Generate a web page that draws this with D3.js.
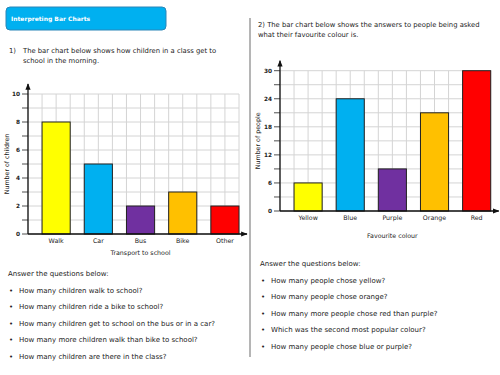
<!DOCTYPE html>
<html>
<head>
<meta charset="utf-8">
<script src="https://cdn.jsdelivr.net/npm/d3@7"></script>
<style>
  body { margin: 0; background: #fff; }
  text { font-family: "DejaVu Sans", sans-serif; fill: #222; }
</style>
</head>
<body>
<div id="sheet"></div>
<script>
// chart 1 data
var transportCats   = ["Walk", "Car", "Bus", "Bike", "Other"];
var transportCounts = [8, 5, 2, 3, 2];
var childTicks      = [0, 2, 4, 6, 8, 10];

// chart 2 data
var colourCats   = ["Yellow", "Blue", "Purple", "Orange", "Red"];
var colourCounts = [6, 24, 9, 21, 30];
var peopleTicks  = [0, 6, 12, 18, 24, 30];

var barFills = ["#ffff00", "#00b0f0", "#7030a0", "#ffc000", "#ff0000"];

var questions1 = [
  "How many children walk to school?",
  "How many children ride a bike to school?",
  "How many children get to school on the bus or in a car?",
  "How many more children walk than bike to school?",
  "How many children are there in the class?"
];
var questions2 = [
  "How many people chose yellow?",
  "How many people chose orange?",
  "How many more people chose red than purple?",
  "Which was the second most popular colour?",
  "How many people chose blue or purple?"
];

const W = 500, H = 375;

const svg = d3.select("#sheet")
              .append("svg")
              .attr("width", W)
              .attr("height", H);

svg.append("defs").append("marker")
   .attr("id", "arrow")
   .attr("viewBox", "0 0 10 10")
   .attr("refX", 9).attr("refY", 5)
   .attr("markerWidth", 5).attr("markerHeight", 5)
   .attr("orient", "auto")
   .append("path")
   .attr("d", "M0,1 L10,5 L0,9 Z")
   .attr("fill", "#111");

// header box
svg.append("rect")
   .attr("x", 6).attr("y", 7)
   .attr("width", 160).attr("height", 23)
   .attr("rx", 4)
   .attr("fill", "#00b0f0")
   .attr("stroke", "#2a86b8")
   .attr("stroke-width", 1);
svg.append("text")
   .attr("x", 11).attr("y", 21)
   .style("font-size", "6px")
   .style("font-weight", "bold")
   .style("fill", "#fff")
   .text("Interpreting Bar Charts");

// separator
svg.append("line")
   .attr("x1", 250).attr("x2", 250)
   .attr("y1", 18).attr("y2", 357)
   .attr("stroke", "#b5b5b5")
   .attr("stroke-width", 2);

// intro texts
function para(x, y, lines, step) {
  lines.forEach(function(l, i) {
    svg.append("text")
       .attr("x", x).attr("y", y + i * step)
       .style("font-size", "6.8px")
       .text(l);
  });
}
svg.append("text").attr("x", 9).attr("y", 53).style("font-size", "6.8px").text("1)");
para(23, 53, ["The bar chart below shows how children in a class get to",
              "school in the morning."], 9.5);
para(258, 27, ["2) The bar chart below shows the answers to people being asked",
               "what their favourite colour is."], 9.5);

function drawChart(o) {
  var g = svg.append("g");

  var x = d3.scaleBand()
            .domain(o.cats)
            .range([o.x0, o.x1])
            .paddingInner(1/3)
            .paddingOuter(1/6)
            .align(1);

  var y = d3.scaleLinear()
            .domain([0, o.max])
            .range([o.y0, o.y1]);

  // grid
  var cols = d3.range(16).map(function(i) { return o.x0 + i * (o.x1 - o.x0) / 15; });
  g.selectAll(".vg").data(cols).enter()
   .append("line")
   .attr("x1", function(d) { return d; }).attr("x2", function(d) { return d; })
   .attr("y1", o.y0).attr("y2", o.y1)
   .attr("stroke", "#d4d4d4").attr("stroke-width", 1);

  var rows = d3.range(0, o.max + 0.001, o.minor);
  g.selectAll(".hg").data(rows).enter()
   .append("line")
   .attr("x1", o.x0).attr("x2", o.x1)
   .attr("y1", function(d) { return y(d); }).attr("y2", function(d) { return y(d); })
   .attr("stroke", "#d4d4d4").attr("stroke-width", 1);

  // bars
  g.selectAll(".bar").data(o.values).enter()
   .append("rect")
   .attr("x", function(d, i) { return x(o.cats[i]); })
   .attr("y", function(d) { return y(d); })
   .attr("width", x.bandwidth())
   .attr("height", function(d) { return y(0) - y(d); })
   .attr("fill", function(d, i) { return barFills[i]; })
   .attr("stroke", "#222")
   .attr("stroke-width", 1);

  // y axis ticks
  g.selectAll(".tk").data(rows).enter()
   .append("line")
   .attr("x1", o.x0 - 6).attr("x2", o.x0)
   .attr("y1", function(d) { return y(d); }).attr("y2", function(d) { return y(d); })
   .attr("stroke", "#222").attr("stroke-width", 0.8);

  g.selectAll(".tl").data(o.ticks).enter()
   .append("text")
   .attr("x", o.x0 - 8)
   .attr("y", function(d) { return y(d) + 2; })
   .attr("text-anchor", "end")
   .style("font-size", "5.8px")
   .style("font-weight", "bold")
   .text(function(d) { return d; });

  // axes with arrows
  g.append("line")
   .attr("x1", o.x0).attr("x2", o.x0)
   .attr("y1", o.y0).attr("y2", o.y1 - 10)
   .attr("stroke", "#111").attr("stroke-width", 1.3)
   .attr("marker-end", "url(#arrow)");
  g.append("line")
   .attr("x1", o.x0).attr("x2", o.x1 + 8)
   .attr("y1", o.y0).attr("y2", o.y0)
   .attr("stroke", "#111").attr("stroke-width", 1.3)
   .attr("marker-end", "url(#arrow)");

  // category labels
  g.selectAll(".cl").data(o.cats).enter()
   .append("text")
   .attr("x", function(d) { return x(d) + x.bandwidth() / 2; })
   .attr("y", o.y0 + 9)
   .attr("text-anchor", "middle")
   .style("font-size", "6.3px")
   .text(function(d) { return d; });

  g.append("text")
   .attr("x", (x(o.cats[0]) + o.x1) / 2)
   .attr("y", o.xTitleY)
   .attr("text-anchor", "middle")
   .style("font-size", "6.3px")
   .text(o.xTitle);

  g.append("text")
   .attr("transform", "translate(" + o.yTitleX + "," + (o.y0 + o.y1) / 2 + ") rotate(-90)")
   .attr("text-anchor", "middle")
   .style("font-size", "6.3px")
   .text(o.yTitle);
}

drawChart({
  cats: transportCats, values: transportCounts, ticks: childTicks,
  max: 10, minor: 1,
  x0: 28, x1: 239, y0: 234, y1: 94,
  xTitle: "Transport to school", xTitleY: 255,
  yTitle: "Number of children", yTitleX: 9
});

drawChart({
  cats: colourCats, values: colourCounts, ticks: peopleTicks,
  max: 30, minor: 3,
  x0: 280, x1: 490.7, y0: 211, y1: 70.7,
  xTitle: "Favourite colour", xTitleY: 238,
  yTitle: "Number of people", yTitleX: 260
});

// questions
function questionList(x, y, qs) {
  svg.append("text").attr("x", x).attr("y", y)
     .style("font-size", "7px")
     .text("Answer the questions below:");
  qs.forEach(function(q, i) {
    var yy = y + 16.5 * (i + 1);
    svg.append("text").attr("x", x + 1).attr("y", yy)
       .style("font-size", "7px").text("\u2022");
    svg.append("text").attr("x", x + 11).attr("y", yy)
       .style("font-size", "7px").text(q);
  });
}
questionList(8, 276, questions1);
questionList(260, 266, questions2);
</script>
</body>
</html>
